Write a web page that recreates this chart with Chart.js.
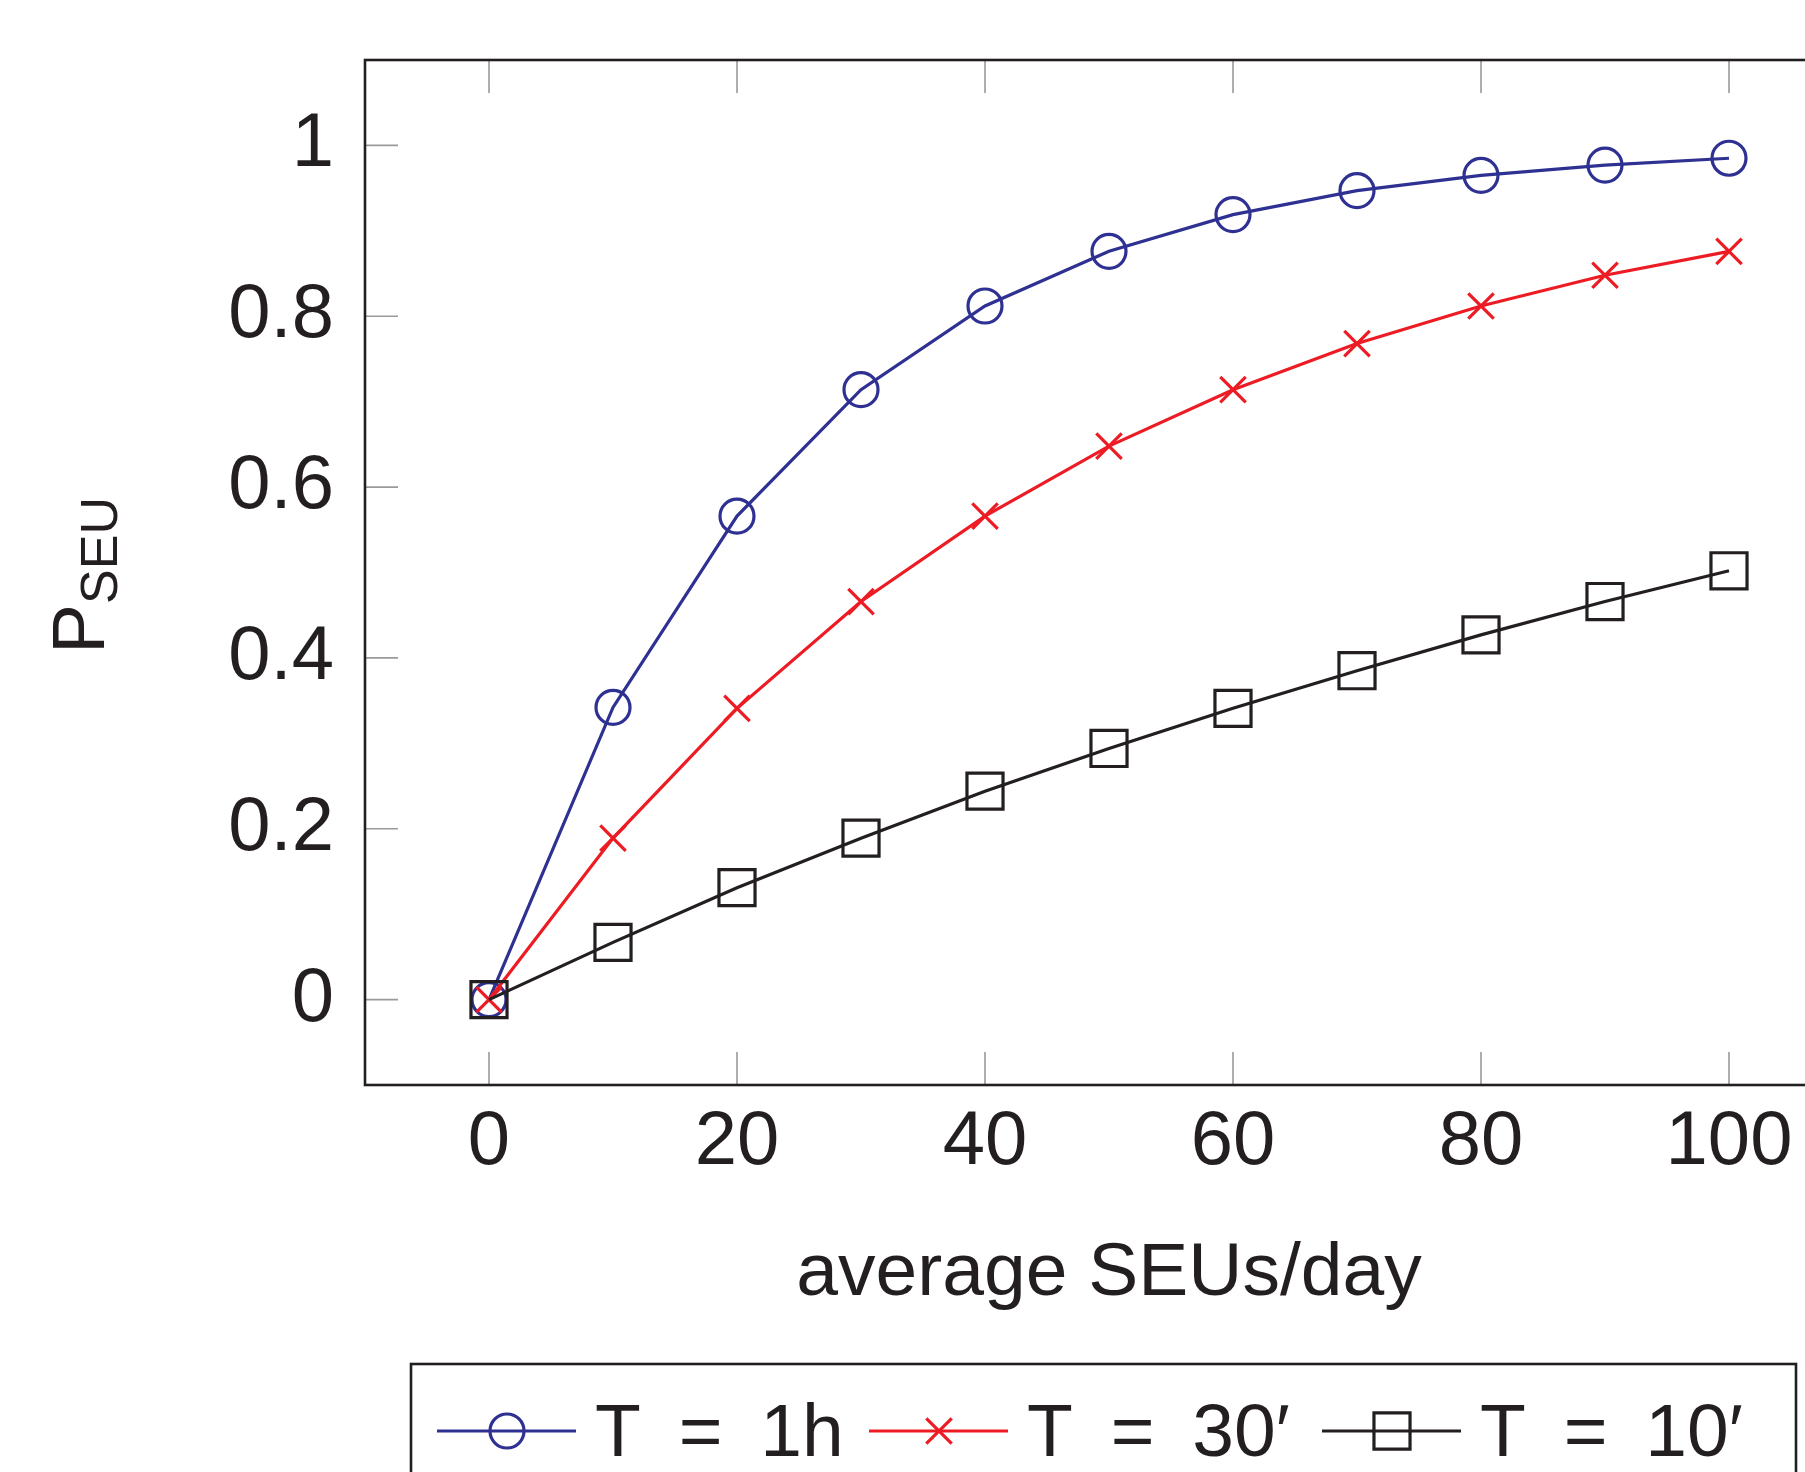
<!DOCTYPE html>
<html>
<head>
<meta charset="utf-8">
<script src="https://cdn.jsdelivr.net/npm/chart.js@4.4.0/dist/chart.umd.min.js"></script>
<style>
    html, body { margin: 0; padding: 0; background: #fff; overflow: hidden; }
    #wrap { position: relative; width: 1900px; height: 1472px; }
</style>
</head>
<body>
<div id="wrap"><canvas id="chart_seu"></canvas></div>
<script>
// data
var xValues = [0, 10, 20, 30, 40, 50, 60, 70, 80, 90, 100];
var seu1h = [0, 0.342, 0.566, 0.714, 0.812, 0.876, 0.919, 0.947, 0.965, 0.977, 0.985];
var seu30 = [0, 0.189, 0.341, 0.466, 0.566, 0.648, 0.714, 0.768, 0.812, 0.848, 0.876];
var seu10 = [0, 0.067, 0.131, 0.189, 0.244, 0.294, 0.341, 0.385, 0.427, 0.466, 0.502];
var seriesLabels = ["T = 1h", "T = 30\u2032", "T = 10\u2032"];
var xTicks = [0, 20, 40, 60, 80, 100];
var yTicks = [0, 0.2, 0.4, 0.6, 0.8, 1];

var FONT = "'Liberation Sans', Arial, sans-serif";
var INK = "#231f20";

function toPoints(ys) {
    return xValues.map(function (x, i) { return { x: x, y: ys[i] }; });
}

function drawMarker(ctx, style, x, y, r) {
    ctx.beginPath();
    if (style === "circle") {
        ctx.arc(x, y, r, 0, Math.PI * 2);
    } else if (style === "crossRot") {
        var d = r * Math.SQRT1_2;
        ctx.moveTo(x - d, y - d); ctx.lineTo(x + d, y + d);
        ctx.moveTo(x - d, y + d); ctx.lineTo(x + d, y - d);
    } else {
        var s = r * Math.SQRT1_2;
        ctx.rect(x - s, y - s, 2 * s, 2 * s);
    }
    ctx.stroke();
}

var framePlugin = {
    id: "frame",
    afterDraw: function (chart) {
        var ctx = chart.ctx;
        var a = chart.chartArea;
        var xs = chart.scales.x, ys = chart.scales.y;
        ctx.save();
        // inner tick marks
        ctx.strokeStyle = "#9a9a9a";
        ctx.lineWidth = 1.6;
        ctx.beginPath();
        xs.ticks.forEach(function (t) {
            var px = xs.getPixelForValue(t.value);
            ctx.moveTo(px, a.top); ctx.lineTo(px, a.top + 33);
            ctx.moveTo(px, a.bottom); ctx.lineTo(px, a.bottom - 33);
        });
        ys.ticks.forEach(function (t) {
            var py = ys.getPixelForValue(t.value);
            ctx.moveTo(a.left, py); ctx.lineTo(a.left + 33, py);
            ctx.moveTo(a.right, py); ctx.lineTo(a.right - 33, py);
        });
        ctx.stroke();
        // frame
        ctx.strokeStyle = INK;
        ctx.lineWidth = 2.6;
        ctx.strokeRect(a.left, a.top, a.right - a.left, a.bottom - a.top);

        // y axis title P_SEU
        ctx.fillStyle = INK;
        ctx.translate(104, 654);
        ctx.rotate(-Math.PI / 2);
        ctx.textBaseline = "alphabetic";
        ctx.textAlign = "left";
        ctx.font = "75px " + FONT;
        ctx.fillText("P", 0, 0);
        var pw = ctx.measureText("P").width;
        ctx.font = "52px " + FONT;
        ctx.fillText("SEU", pw, 13);
        ctx.restore();

        // legend box
        ctx.save();
        ctx.strokeStyle = INK;
        ctx.lineWidth = 2.6;
        ctx.strokeRect(411, 1364, 1796 - 411, 200);
        var itemX = [437, 869, 1322];
        var lineY = 1431;
        chart.data.datasets.forEach(function (ds, i) {
            var x0 = itemX[i];
            ctx.strokeStyle = ds.borderColor;
            ctx.lineWidth = 3.2;
            ctx.beginPath();
            ctx.moveTo(x0, lineY); ctx.lineTo(x0 + 139, lineY);
            ctx.stroke();
            drawMarker(ctx, ds.pointStyle, x0 + 70, lineY, ds.pointRadius);
            ctx.fillStyle = INK;
            ctx.font = "75px " + FONT;
            ctx.textBaseline = "alphabetic";
            ctx.wordSpacing = "17px";
            ctx.fillText(ds.label, x0 + 158, 1456);
            ctx.wordSpacing = "0px";
        });
        ctx.restore();
    }
};

var ctxSeu = document.getElementById("chart_seu").getContext("2d");
var chartSeu = new Chart(ctxSeu, {
    type: "line",
    data: {
        datasets: [
            {
                label: seriesLabels[0],
                data: toPoints(seu1h),
                borderColor: "#2e3192",
                pointStyle: "circle",
                pointRadius: 17,
                order: 3,
            },
            {
                label: seriesLabels[1],
                data: toPoints(seu30),
                borderColor: "#ed1c24",
                pointStyle: "crossRot",
                pointRadius: 18,
                order: 2,
            },
            {
                label: seriesLabels[2],
                data: toPoints(seu10),
                borderColor: INK,
                pointStyle: "rect",
                pointRadius: 25.5,
                order: 1,
            },
        ].map(function (d) {
            d.borderWidth = 3.2;
            d.pointBorderColor = d.borderColor;
            d.pointBackgroundColor = "rgba(0,0,0,0)";
            d.pointBorderWidth = 3.2;
            d.tension = 0;
            d.fill = false;
            return d;
        }),
    },
    plugins: [framePlugin],
    options: {
        responsive: true,
        maintainAspectRatio: false,
        animation: false,
        layout: {
            padding: { left: 0, top: 60, right: 47, bottom: 160 },
        },
        plugins: {
            legend: { display: false },
            tooltip: { enabled: false },
        },
        scales: {
            x: {
                type: "linear",
                min: -10,
                max: 110,
                afterBuildTicks: function (scale) {
                    scale.ticks = xTicks.map(function (v) { return { value: v }; });
                },
                afterFit: function (scale) {
                    scale.height = 227;
                    scale.paddingLeft = 0;
                    scale.paddingRight = 0;
                },
                grid: { display: false, drawTicks: false },
                border: { display: false },
                ticks: {
                    padding: 12,
                    color: INK,
                    maxRotation: 0,
                    autoSkip: false,
                    font: { family: FONT, size: 76, lineHeight: 1.2 },
                    callback: function (v) { return String(v); },
                },
                title: {
                    display: true,
                    text: "average SEUs/day",
                    color: INK,
                    padding: 0,
                    font: { family: FONT, size: 75, lineHeight: 1 },
                },
            },
            y: {
                type: "linear",
                min: -0.1,
                max: 1.1,
                afterBuildTicks: function (scale) {
                    scale.ticks = yTicks.map(function (v) { return { value: v }; });
                },
                afterFit: function (scale) {
                    scale.width = 365;
                    scale.paddingTop = 0;
                    scale.paddingBottom = 0;
                },
                grid: { display: false, drawTicks: false },
                border: { display: false },
                ticks: {
                    padding: 31,
                    color: INK,
                    autoSkip: false,
                    font: { family: FONT, size: 76, lineHeight: 1.2 },
                    callback: function (v) { return String(v); },
                },
            },
        },
    },
});
</script>
</body>
</html>
